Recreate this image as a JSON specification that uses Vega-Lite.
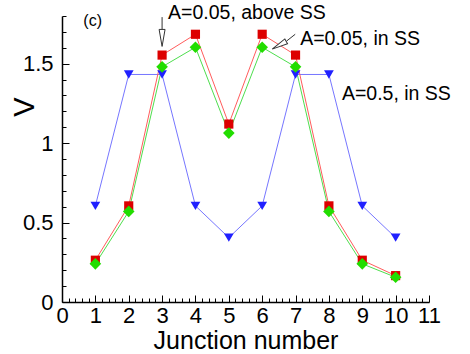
{
  "$schema": "https://vega.github.io/schema/vega-lite/v6.json",
  "width": 367,
  "height": 286,
  "autosize": "none",
  "padding": {"left": 62, "top": 16, "right": 41, "bottom": 52},
  "background": "white",
  "config": {"view": {"stroke": null}, "font": "Liberation Sans"},
  "encoding": {
    "x": {
      "field": "x", "type": "quantitative",
      "scale": {"domain": [0, 11], "nice": false, "zero": false},
      "axis": {
        "title": "Junction number",
        "values": [0,0.2,0.4,0.6,0.8,1,1.2,1.4,1.6,1.8,2,2.2,2.4,2.6,2.8,3,3.2,3.4,3.6,3.8,4,4.2,4.4,4.6,4.8,5,5.2,5.4,5.6,5.8,6,6.2,6.4,6.6,6.8,7,7.2,7.4,7.6,7.8,8,8.2,8.4,8.6,8.8,9,9.2,9.4,9.6,9.8,10,10.2,10.4,10.6,10.8,11],
        "labelExpr": "datum.value % 1 === 0 ? toString(datum.value) : ''",
        "grid": false,
        "domainColor": "black", "domainWidth": 1.5,
        "tickColor": "black", "tickWidth": 1,
        "tickSize": {"condition": {"test": "datum.value % 1 === 0", "value": -7}, "value": -4},
        "labelPadding": 10, "labelFontSize": 22, "labelColor": "black", "labelFont": "Liberation Sans",
        "labelFlush": false, "labelOverlap": false,
        "titleFontSize": 25, "titleFontWeight": "normal", "titleColor": "black", "titleFont": "Liberation Sans",
        "titleX": 183.5, "titleY": 46.5, "titleAlign": "center", "titleBaseline": "alphabetic"
      }
    },
    "y": {
      "field": "y", "type": "quantitative",
      "scale": {"domain": [0, 1.8], "nice": false, "zero": false},
      "axis": {
        "title": "V",
        "values": [0,0.1,0.2,0.3,0.4,0.5,0.6,0.7,0.8,0.9,1,1.1,1.2,1.3,1.4,1.5,1.6,1.7,1.8],
        "labelExpr": "datum.value % 0.5 === 0 ? toString(datum.value) : ''",
        "grid": false,
        "domainColor": "black", "domainWidth": 1.5,
        "tickColor": "black", "tickWidth": 1,
        "tickSize": {"condition": {"test": "datum.value % 0.5 === 0", "value": -7}, "value": -4},
        "labelPadding": 16, "labelFontSize": 22, "labelColor": "black", "labelFont": "Liberation Sans",
        "labelFlush": false, "labelOverlap": false,
        "titleFontSize": 29, "titleFontWeight": "normal", "titleColor": "black", "titleFont": "Liberation Sans",
        "titleAngle": -90, "titleX": -28.5, "titleY": 90.5, "titleAlign": "center", "titleBaseline": "alphabetic"
      }
    }
  },
  "layer": [
    {
      "data": {"name": "main"},
      "mark": {"type": "line", "strokeWidth": 1},
      "encoding": {
        "stroke": {"field": "series", "type": "nominal", "legend": null,
          "scale": {"domain": ["A=0.5, in SS", "A=0.05, above SS", "A=0.05, in SS"], "range": ["#7676ff", "#ff5c5c", "#4ede4e"]}}
      }
    },
    {
      "data": {"name": "main"},
      "transform": [{"filter": "datum.series === 'A=0.5, in SS'"}],
      "mark": {"type": "point", "shape": "triangle-down", "size": 95, "filled": true, "fill": "#2020ff", "opacity": 1, "strokeWidth": 0}
    },
    {
      "data": {"name": "main"},
      "transform": [{"filter": "datum.series === 'A=0.05, above SS'"}],
      "mark": {"type": "point", "shape": "square", "size": 84, "filled": true, "fill": "#dd0000", "opacity": 1, "strokeWidth": 0}
    },
    {
      "data": {"name": "main"},
      "transform": [{"filter": "datum.series === 'A=0.05, in SS'"}],
      "mark": {"type": "point", "shape": "diamond", "size": 135, "filled": true, "fill": "#22dd00", "opacity": 1, "strokeWidth": 0}
    },
    {
      "data": {"name": "labels"},
      "mark": {"type": "text", "align": "left", "baseline": "alphabetic", "fontSize": 19.5, "font": "Liberation Sans", "color": "black"},
      "encoding": {"text": {"field": "text"}}
    },
    {
      "data": {"name": "panel"},
      "mark": {"type": "text", "align": "left", "baseline": "alphabetic", "fontSize": 16, "font": "Liberation Sans", "color": "black"},
      "encoding": {"text": {"field": "text"}}
    },
    {
      "data": {"name": "shafts"},
      "mark": {"type": "rule", "color": "#333333", "strokeWidth": 1},
      "encoding": {"x2": {"field": "x2"}, "y2": {"field": "y2"}}
    },
    {
      "data": {"name": "head1"},
      "mark": {"type": "point", "shape": "M0,1L-0.35,-1L0.35,-1Z", "size": 289, "filled": false, "fill": "white", "stroke": "#333333", "strokeWidth": 1, "opacity": 1, "angle": 0},
      "encoding": {}
    },
    {
      "data": {"name": "head2"},
      "mark": {"type": "point", "shape": "M0,1L-0.35,-1L0.35,-1Z", "size": 256, "filled": false, "fill": "white", "stroke": "#333333", "strokeWidth": 1, "opacity": 1, "angle": 61},
      "encoding": {}
    }
  ],
  "datasets": {
    "main": [
      {"series": "A=0.5, in SS", "x": 1, "y": 0.605},
      {"series": "A=0.5, in SS", "x": 2, "y": 1.432},
      {"series": "A=0.5, in SS", "x": 3, "y": 1.432},
      {"series": "A=0.5, in SS", "x": 4, "y": 0.605},
      {"series": "A=0.5, in SS", "x": 5, "y": 0.405},
      {"series": "A=0.5, in SS", "x": 6, "y": 0.605},
      {"series": "A=0.5, in SS", "x": 7, "y": 1.432},
      {"series": "A=0.5, in SS", "x": 8, "y": 1.432},
      {"series": "A=0.5, in SS", "x": 9, "y": 0.605},
      {"series": "A=0.5, in SS", "x": 10, "y": 0.405},
      {"series": "A=0.05, above SS", "x": 1, "y": 0.263},
      {"series": "A=0.05, above SS", "x": 2, "y": 0.605},
      {"series": "A=0.05, above SS", "x": 3, "y": 1.554},
      {"series": "A=0.05, above SS", "x": 4, "y": 1.685},
      {"series": "A=0.05, above SS", "x": 5, "y": 1.12},
      {"series": "A=0.05, above SS", "x": 6, "y": 1.685},
      {"series": "A=0.05, above SS", "x": 7, "y": 1.554},
      {"series": "A=0.05, above SS", "x": 8, "y": 0.605},
      {"series": "A=0.05, above SS", "x": 9, "y": 0.263},
      {"series": "A=0.05, above SS", "x": 10, "y": 0.166},
      {"series": "A=0.05, in SS", "x": 1, "y": 0.24},
      {"series": "A=0.05, in SS", "x": 2, "y": 0.57},
      {"series": "A=0.05, in SS", "x": 3, "y": 1.48},
      {"series": "A=0.05, in SS", "x": 4, "y": 1.603},
      {"series": "A=0.05, in SS", "x": 5, "y": 1.063},
      {"series": "A=0.05, in SS", "x": 6, "y": 1.603},
      {"series": "A=0.05, in SS", "x": 7, "y": 1.48},
      {"series": "A=0.05, in SS", "x": 8, "y": 0.57},
      {"series": "A=0.05, in SS", "x": 9, "y": 0.24},
      {"series": "A=0.05, in SS", "x": 10, "y": 0.156}
    ],
    "labels": [
      {"text": "A=0.05, above SS", "x": 3.18, "y": 1.782},
      {"text": "A=0.05, in SS", "x": 7.14, "y": 1.618},
      {"text": "A=0.5, in SS", "x": 8.39, "y": 1.27}
    ],
    "panel": [
      {"text": "(c)", "x": 0.64, "y": 1.734}
    ],
    "shafts": [
      {"x": 3.0, "y": 1.793, "x2": 3.0, "y2": 1.717},
      {"x": 6.99, "y": 1.685, "x2": 6.73, "y2": 1.642}
    ],
    "head1": [
      {"x": 3.0, "y": 1.662}
    ],
    "head2": [
      {"x": 6.51, "y": 1.616}
    ]
  }
}
